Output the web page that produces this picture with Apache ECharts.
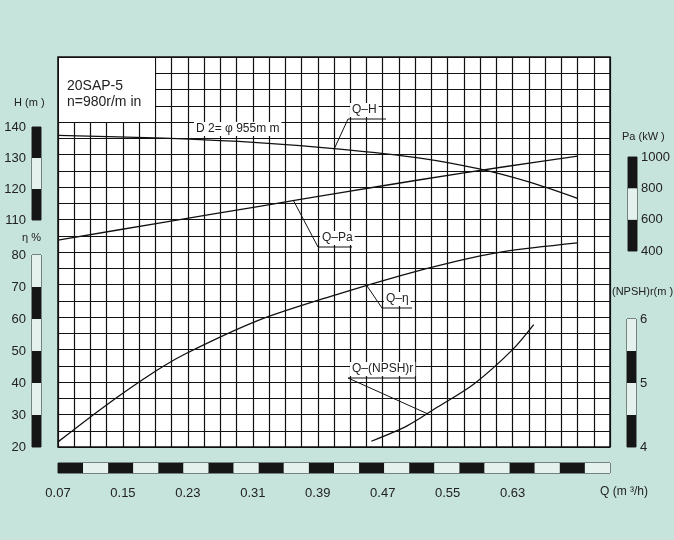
<!DOCTYPE html>
<html>
<head>
<meta charset="utf-8">
<script src="https://cdn.jsdelivr.net/npm/echarts@6/dist/echarts.min.js"></script>
<style>
  html, body { margin: 0; padding: 0; background: #c6e3dc; }
  #chart { width: 674px; height: 540px; }
</style>
</head>
<body>
<div id="chart"></div>
<script>
// curve values
var qH = [0.07, 0.20, 0.32, 0.417, 0.516, 0.589, 0.65, 0.71];
var hVals = [137.3, 136.4, 134.9, 132.9, 130.0, 126.5, 122.3, 117.0];
var qPa = [0.07, 0.20, 0.32, 0.417, 0.516, 0.62, 0.71];
var paVals = [470, 583, 687, 771, 855, 938, 1006];
var qEta = [0.07, 0.129, 0.189, 0.226, 0.316, 0.405, 0.491, 0.56, 0.617, 0.71];
var etaVals = [21.6, 33, 43.5, 49, 59.5, 67, 73.5, 78, 81, 83.8];
var qN = [0.456, 0.50, 0.537, 0.582, 0.630, 0.656];
var nVals = [4.09, 4.33, 4.62, 4.98, 5.52, 5.91];

var xLabelEvery = 0.08;
var black = '#151515', light = '#e4f1ed';

var chart = echarts.init(document.getElementById('chart'));
var font = 'Liberation Sans';

function barAxis(grid, min, max, step, labelStep, side) {
  return {
    type: 'value', gridIndex: grid, min: min, max: max, interval: step, position: side,
    axisLine: { show: false }, axisTick: { show: false }, splitLine: { show: false },
    splitArea: { show: true, areaStyle: { color: [black, light] } },
    axisLabel: {
      fontFamily: font, fontSize: 13, color: '#222', margin: side === 'left' ? 6 : 4,
      formatter: function (v) {
        var k = Math.round((v - min) / labelStep * 1000) / 1000;
        return Math.abs(k - Math.round(k)) < 1e-6 ? String(Math.round(v * 100) / 100) : '';
      }
    }
  };
}
function hiddenX(grid) { return { type: 'value', gridIndex: grid, min: 0, max: 1, show: false }; }
function hiddenY(min, max) { return { type: 'value', gridIndex: 0, min: min, max: max, show: false }; }
function curve(x, y, yAxisIndex) {
  return {
    type: 'line', xAxisIndex: 0, yAxisIndex: yAxisIndex, smooth: 0.3, showSymbol: false,
    lineStyle: { color: '#111', width: 1.3 }, data: x.map(function (q, i) { return [q, y[i]]; }), z: 5
  };
}

var option = {
  animation: false,
  backgroundColor: '#c6e3dc',
  textStyle: { fontFamily: font },
  grid: [
    { left: 58, top: 57, width: 552, height: 390, show: true, backgroundColor: '#fff', borderColor: '#111', borderWidth: 1.5 },
    { left: 32, top: 127, width: 9, height: 93, show: true, borderColor: '#222', borderWidth: 1 },
    { left: 32, top: 255, width: 9, height: 192, show: true, borderColor: '#222', borderWidth: 1 },
    { left: 628, top: 157, width: 9, height: 94, show: true, borderColor: '#222', borderWidth: 1 },
    { left: 627, top: 319, width: 9, height: 128, show: true, borderColor: '#222', borderWidth: 1 },
    { left: 58, top: 463, width: 552, height: 10, show: true, borderColor: '#222', borderWidth: 1 }
  ],
  xAxis: [
    {
      type: 'value', gridIndex: 0, min: 0.07, max: 0.75, interval: 0.02,
      axisLine: { show: false }, axisTick: { show: false },
      splitLine: { show: true, lineStyle: { color: '#111', width: 1.2 } },
      axisLabel: {
        margin: 40, fontFamily: font, fontSize: 13, color: '#222',
        formatter: function (v) {
          var k = (v - 0.07) / xLabelEvery;
          return Math.abs(k - Math.round(k)) < 1e-6 && v < 0.7 ? v.toFixed(2) : '';
        }
      }
    },
    hiddenX(1), hiddenX(2), hiddenX(3), hiddenX(4),
    {
      type: 'value', gridIndex: 5, min: 0, max: 22, interval: 1,
      axisLine: { show: false }, axisTick: { show: false }, axisLabel: { show: false }, splitLine: { show: false },
      splitArea: { show: true, areaStyle: { color: [black, light] } }
    }
  ],
  yAxis: [
    hiddenY(36.8, 162.6),          // 0 H
    hiddenY(20, 141.9),            // 1 eta
    hiddenY(-852, 1639),           // 2 Pa
    hiddenY(4, 10.09),             // 3 NPSH
    {                               // 4 grid rows
      type: 'value', gridIndex: 0, min: 0, max: 24, interval: 1,
      axisLine: { show: false }, axisTick: { show: false }, axisLabel: { show: false },
      splitLine: { show: true, lineStyle: { color: '#111', width: 1.2 } }
    },
    barAxis(1, 110, 140, 10, 10, 'left'),
    barAxis(2, 20, 80, 10, 10, 'left'),
    barAxis(3, 400, 1000, 200, 200, 'right'),
    barAxis(4, 4, 6, 0.5, 1, 'right'),
    { type: 'value', gridIndex: 5, min: 0, max: 1, show: false }
  ],
  series: [
    curve(qH, hVals, 0),
    curve(qPa, paVals, 2),
    curve(qEta, etaVals, 1),
    curve(qN, nVals, 3)
  ]
};
chart.setOption(option);

function px(q, v, yi) { return chart.convertToPixel({ xAxisIndex: 0, yAxisIndex: yi }, [q, v]); }
function txt(x, y, s, size, bg) {
  return { type: 'text', x: x, y: y, z: 20, style: { text: s, fontFamily: font, fontSize: size || 12, fill: '#222', align: 'left', verticalAlign: 'middle', backgroundColor: bg || null, padding: bg ? [1, 2] : 0 } };
}
function callout(label, lx, ly, w, target) {
  return [
    txt(lx, ly, label, 12, '#fff'),
    { type: 'polyline', z: 20, shape: { points: [[lx + w, ly + 9], [lx - 2, ly + 9], target] }, style: { stroke: '#111', lineWidth: 1, fill: null } }
  ];
}

var g = [
  { type: 'rect', z: 15, shape: { x: 59, y: 58, width: 96, height: 64 }, style: { fill: '#fff' } },
  txt(67, 86, '20SAP-5', 14),
  txt(67, 102, 'n=980r/m in', 14),
  txt(194, 129, 'D 2= \u03c6 955m m', 12, '#fff'),
  txt(14, 103, 'H (m )', 11), txt(22, 238, '\u03b7 %', 11),
  txt(622, 137, 'Pa (kW )', 11), txt(612, 292, '(NPSH)r(m )', 11),
  txt(600, 492, 'Q (m \u00b3/h)', 12)
];
g = g.concat(
  callout('Q\u2013H', 350, 110, 36, px(0.41, 132.8, 0)),
  callout('Q\u2013Pa', 320, 238, 32, px(0.36, 723, 2)),
  callout('Q\u2013\u03b7', 384, 299, 28, px(0.45, 70.6, 1)),
  callout('Q\u2013(NPSH)r', 350, 369, 66, px(0.525, 4.52, 3))
);
chart.setOption({ graphic: g });
</script>
</body>
</html>
